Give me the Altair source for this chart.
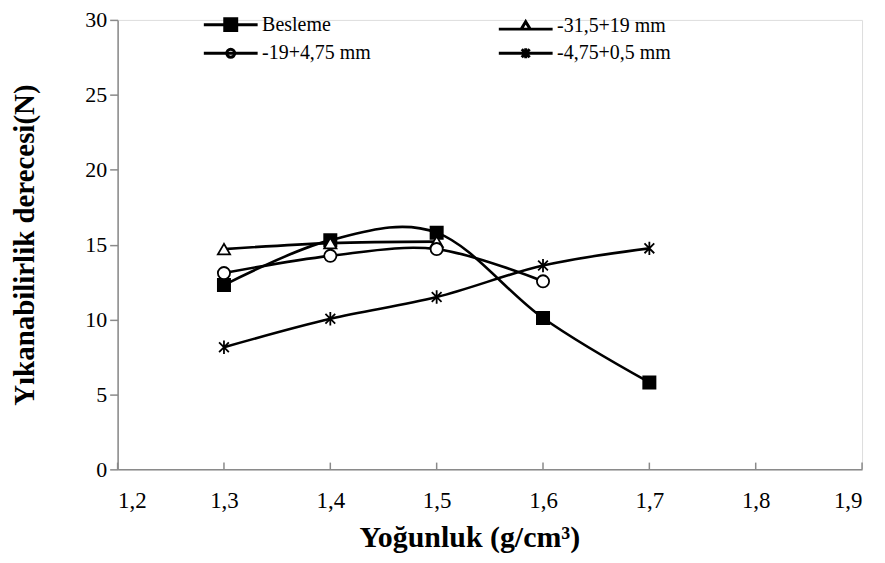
import altair as alt
import pandas as pd

# ---- data ----
series_names = ["Besleme", "-31,5+19 mm", "-19+4,75 mm", "-4,75+0,5 mm"]
x_besleme = [1.3, 1.4, 1.5, 1.6, 1.7]
y_besleme = [12.3, 15.3, 15.8, 10.1, 5.8]
x_s31 = [1.3, 1.4, 1.5]
y_s31 = [14.7, 15.1, 15.2]
x_s19 = [1.3, 1.4, 1.5, 1.6]
y_s19 = [13.1, 14.25, 14.7, 12.55]
x_s475 = [1.3, 1.4, 1.5, 1.6, 1.7]
y_s475 = [8.15, 10.05, 11.5, 13.6, 14.75]
x_ticks = [1.2, 1.3, 1.4, 1.5, 1.6, 1.7, 1.8, 1.9]
y_ticks = [0, 5, 10, 15, 20, 25, 30]

rows = []
for name, xs, ys in [
    (series_names[0], x_besleme, y_besleme),
    (series_names[1], x_s31, y_s31),
    (series_names[2], x_s19, y_s19),
    (series_names[3], x_s475, y_s475),
]:
    for xv, yv in zip(xs, ys):
        rows.append({"series": name, "x": xv, "y": yv})
df = pd.DataFrame(rows)
tick_df = pd.DataFrame({"x": x_ticks, "y0": [0] * len(x_ticks), "y1": [0.45] * len(x_ticks)})

FONT = "Liberation Serif"
AXIS_GRAY = "#8a8a8a"

xscale = alt.Scale(domain=[1.2, 1.9], nice=False, zero=False)
yscale = alt.Scale(domain=[0, 30], nice=False)

xaxis = alt.Axis(
    values=x_ticks, ticks=False, grid=False,
    labelExpr="replace(format(datum.value, '.1f'), '.', ',')",
    labelFont=FONT, labelFontSize=23, labelColor="black", labelPadding=20,
    domainColor=AXIS_GRAY, domainWidth=1.5,
    title="Yoğunluk (g/cm³)", titleFont=FONT, titleFontSize=30, titleFontWeight="bold",
    titleColor="black", titleX=353, titleY=77, titleBaseline="alphabetic",
)
yaxis = alt.Axis(
    values=y_ticks, grid=False, tickSize=8, tickColor=AXIS_GRAY, tickWidth=1.5,
    labelFont=FONT, labelFontSize=22, labelColor="black", labelPadding=3,
    domainColor=AXIS_GRAY, domainWidth=1.5,
    title="Yıkanabilirlik  derecesi(N)", titleFont=FONT, titleFontSize=29,
    titleFontWeight="bold", titleColor="black", titleX=-93, titleBaseline="middle",
    titleAngle=270,
)

base = alt.Chart(df)

lines = base.mark_line(interpolate="cardinal", stroke="black", strokeWidth=2.6).encode(
    x=alt.X("x:Q", scale=xscale, axis=xaxis),
    y=alt.Y("y:Q", scale=yscale, axis=yaxis),
    detail="series:N",
    order="x:Q",
)

asterisk = "M-0.8,-0.8L0.8,0.8M-0.8,0.8L0.8,-0.8M0,-1.1V1.1"
points = base.mark_point(stroke="black", strokeWidth=1.8, size=150, opacity=1).encode(
    x=alt.X("x:Q", scale=xscale),
    y=alt.Y("y:Q", scale=yscale),
    shape=alt.Shape("series:N", scale=alt.Scale(domain=series_names,
                    range=["square", "triangle-up", "circle", asterisk]), legend=None),
    fill=alt.Fill("series:N", scale=alt.Scale(domain=series_names,
                  range=["black", "white", "white", "transparent"]), legend=None),
)

# legend-only layer (no data drawn)
sq_fill = "".join("M-0.6,%.2fH0.6" % v for v in [-0.5, -0.3, -0.1, 0.1, 0.3, 0.5])
leg_square = "M-2.7,0H2.7M-0.6,-0.6H0.6V0.6H-0.6Z" + sq_fill
leg_triangle = "M-2.7,0.35H2.7M0,-0.4L0.45,0.35H-0.45Z"
leg_circle = "M-2.7,0H2.7M-0.4,0A0.4,0.4 0 1,0 0.4,0A0.4,0.4 0 1,0 -0.4,0Z"
leg_star = "M-2.7,0H2.7M-0.4,-0.4L0.4,0.4M-0.4,0.4L0.4,-0.4M0,-0.5V0.5"

legend_layer = base.transform_filter("false").mark_point(
    filled=False, stroke="black", strokeWidth=3, size=400, opacity=1
).encode(
    x=alt.X("x:Q", scale=xscale),
    y=alt.Y("y:Q", scale=yscale),
    shape=alt.Shape(
        "series:N",
        scale=alt.Scale(domain=series_names,
                        range=[leg_square, leg_triangle, leg_circle, leg_star]),
        legend=alt.Legend(
            title=None, orient="none", legendX=102, legendY=-7, columns=2,
            direction="horizontal",
            symbolSize=400, symbolStrokeWidth=3, symbolStrokeColor="black",
            symbolOpacity=1,
            labelFont=FONT, labelFontSize=20, labelColor="black", labelOffset=20,
            columnPadding=121, rowPadding=5, padding=0, labelLimit=300,
        ),
    ),
)

x_tick_marks = alt.Chart(tick_df).mark_rule(stroke=AXIS_GRAY, strokeWidth=1.5).encode(
    x=alt.X("x:Q", scale=xscale),
    y=alt.Y("y0:Q", scale=yscale),
    y2="y1:Q",
)

chart = alt.layer(x_tick_marks, lines, points, legend_layer).resolve_scale(
    shape="independent"
).properties(
    width=747, height=451,
    autosize=alt.AutoSizeParams(type="none"),
    padding={"left": 110, "top": 11, "right": 15, "bottom": 85},
).configure_view(stroke=None).configure(background="white")

chart.save("out.html", embed_options={"renderer": "svg", "actions": False})
